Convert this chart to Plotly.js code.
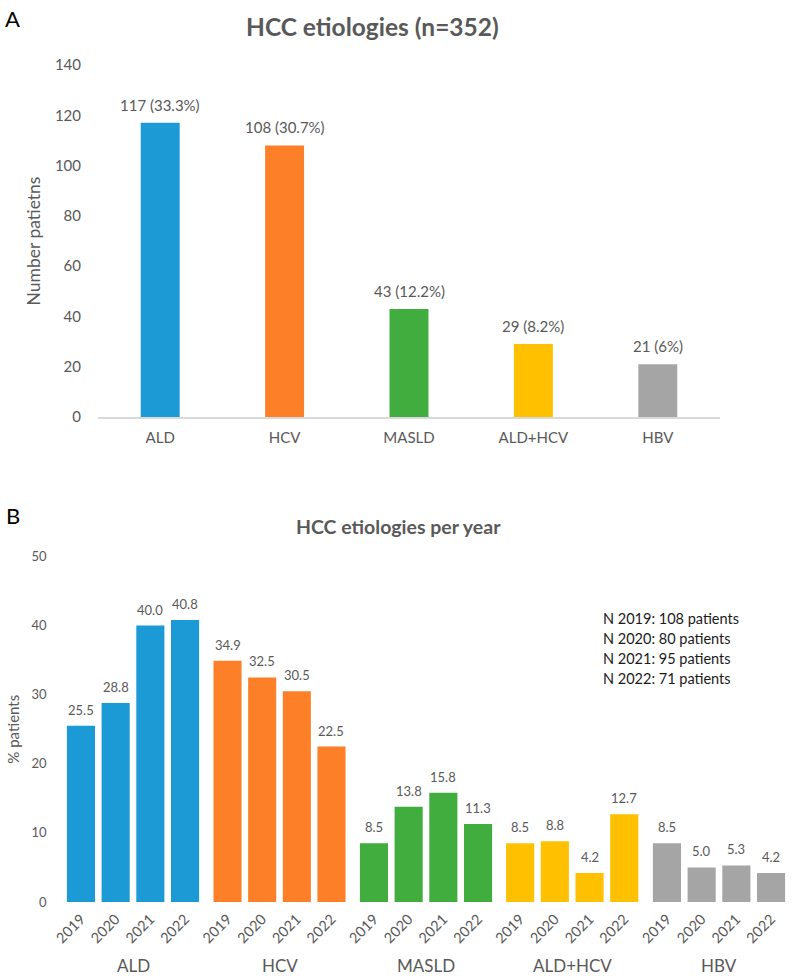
<!DOCTYPE html>
<html><head><meta charset="utf-8">
<script src="https://cdn.plot.ly/plotly-3.0.1.min.js"></script>
<style>html,body{margin:0;padding:0;background:#fff}#chart{width:794px;height:980px}</style>
</head><body><div id="chart"></div>
<script>
// Panel A data
const etiologies = ["ALD","HCV","MASLD","ALD+HCV","HBV"];
const counts = [117,108,43,29,21];
const pctLabels = ["33.3%","30.7%","12.2%","8.2%","6%"];
const colors = ["#1b9ad6","#fd7f28","#41ad3e","#ffc000","#a5a5a5"];
// Panel B data
const years = ["2019","2020","2021","2022"];
const pctALD = [25.5,28.8,40.0,40.8];
const pctHCV = [34.9,32.5,30.5,22.5];
const pctMASLD = [8.5,13.8,15.8,11.3];
const pctALDHCV = [8.5,8.8,4.2,12.7];
const pctHBV = [8.5,5.0,5.3,4.2];
const yearN = ["N 2019: 108 patients","N 2020: 80 patients","N 2021: 95 patients","N 2022: 71 patients"];

const W=794,H=980;
const px = v=>v/W, py = v=>1-v/H;
const FONT = "Lato, 'Open Sans', sans-serif";
const GRAY = "#595959";

const traces = [];
const annotations = [];

traces.push({type:"bar", x:etiologies, y:counts, marker:{color:colors}, xaxis:"x", yaxis:"y", hoverinfo:"none"});
etiologies.forEach((c,i)=>{
  annotations.push({xref:"x",yref:"y",x:i,y:counts[i],text:counts[i]+" ("+pctLabels[i]+")",showarrow:false,yanchor:"bottom",yshift:7,font:{family:FONT,size:15,color:GRAY}});
});

const groupVals = [pctALD,pctHCV,pctMASLD,pctALDHCV,pctHBV];
const groupDomains = [[63.6,202.4],[210.2,348.8],[356.6,495.4],[502.8,641.6],[649.6,788.4]];
const layout = {
  width:W,height:H,margin:{l:0,r:0,t:0,b:0},paper_bgcolor:"#fff",plot_bgcolor:"#fff",
  showlegend:false,bargap:0.687,font:{family:FONT,color:GRAY},
  xaxis:{domain:[px(98),px(720)],anchor:"y",type:"category",range:[-0.5,4.5],showline:true,linecolor:"#d9d9d9",linewidth:1.5,ticks:"",showgrid:false,zeroline:false,
    tickfont:{family:FONT,size:15,color:GRAY},ticklabelstandoff:6,fixedrange:true},
  yaxis:{domain:[py(417),py(65)],anchor:"x",range:[0,140],dtick:20,showgrid:false,zeroline:false,showline:false,ticks:"",
    tickfont:{family:FONT,size:15,color:GRAY},ticklabelstandoff:16,
    title:{text:"Number patietns",font:{family:FONT,size:17.5,color:GRAY},standoff:9}},
  yaxis2:{domain:[py(902),py(556.5)],anchor:"x2",range:[0,50],dtick:10,showgrid:false,zeroline:false,showline:false,ticks:"",
    tickfont:{family:FONT,size:13,color:GRAY},ticklabelstandoff:16,
    title:{text:"% patients",font:{family:FONT,size:15,color:GRAY},standoff:8}},
  annotations:annotations
};

groupVals.forEach((vals,g)=>{
  const xa = "x"+(g+2);
  const key = "xaxis"+(g+2);
  layout[key] = {domain:[px(groupDomains[g][0]),px(groupDomains[g][1])],anchor:"y2",type:"category",range:[-0.5,3.5],showgrid:false,zeroline:false,showline:false,ticks:"",
    tickangle:-45,tickfont:{family:FONT,size:14.5,color:GRAY},ticklabelstandoff:5,fixedrange:true};
  traces.push({type:"bar",x:years,y:vals,marker:{color:colors[g]},xaxis:xa,yaxis:"y2",hoverinfo:"none",width:0.81});
  years.forEach((yr,i)=>{
    annotations.push({xref:xa,yref:"y2",x:i,y:vals[i],text:vals[i].toFixed(1),showarrow:false,yanchor:"bottom",yshift:6,font:{family:FONT,size:13,color:GRAY}});
  });
  annotations.push({xref:xa+" domain",yref:"paper",x:0.5,y:py(965),text:etiologies[g],showarrow:false,yanchor:"middle",font:{family:FONT,size:17,color:GRAY}});
});

// Titles & panel letters
annotations.push({xref:"paper",yref:"paper",x:px(372),y:py(27),text:"<b>HCC etiologies (n=352)</b>",showarrow:false,yanchor:"middle",font:{family:FONT,size:24.5,color:GRAY}});
annotations.push({xref:"paper",yref:"paper",x:px(398),y:py(526),text:"<b>HCC etiologies per year</b>",showarrow:false,yanchor:"middle",font:{family:FONT,size:19.5,color:GRAY}});
annotations.push({xref:"paper",yref:"paper",x:px(3),y:py(18),text:"A",showarrow:false,xanchor:"left",yanchor:"middle",font:{family:FONT,size:22,color:"#000"}});
annotations.push({xref:"paper",yref:"paper",x:px(4),y:py(515),text:"B",showarrow:false,xanchor:"left",yanchor:"middle",font:{family:FONT,size:22,color:"#000"}});
yearN.forEach((t,i)=>{
  annotations.push({xref:"paper",yref:"paper",x:px(601),y:py(618+20*i),text:t,showarrow:false,xanchor:"left",yanchor:"middle",font:{family:FONT,size:14.5,color:"#1a1a1a"}});
});

Plotly.newPlot("chart",traces,layout,{staticPlot:true});
</script></body></html>
